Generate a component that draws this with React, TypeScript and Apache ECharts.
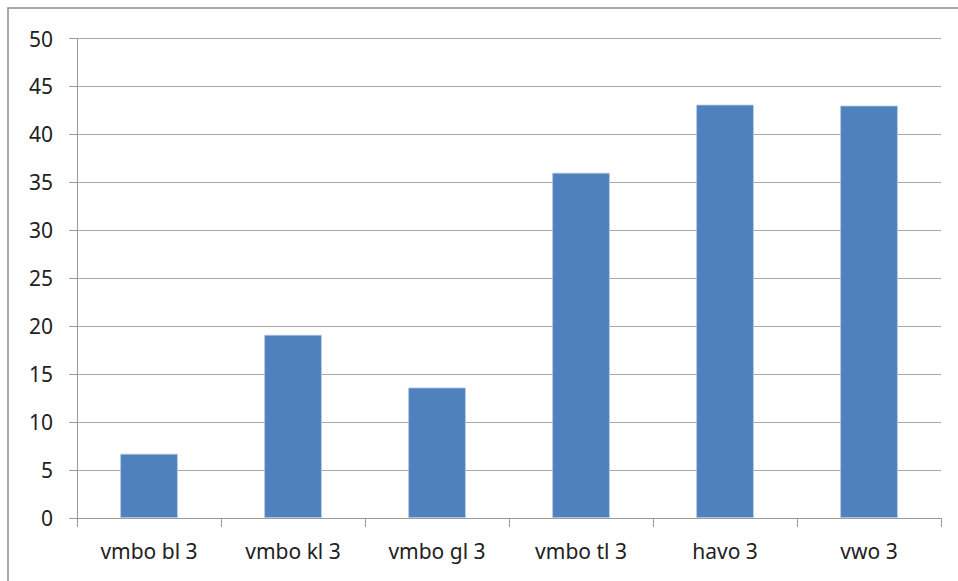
import React, { useEffect, useRef } from "react";
import * as echarts from "echarts";

const categories = ["vmbo bl 3", "vmbo kl 3", "vmbo gl 3", "vmbo tl 3", "havo 3", "vwo 3"];
const values = [6.7, 19.1, 13.6, 36.0, 43.1, 43.0];
const yTicks = { min: 0, max: 50, interval: 5 };

export default function App() {
  const ref = useRef<HTMLDivElement>(null);
  useEffect(() => {
    if (!ref.current) return;
    const chart = echarts.init(ref.current, undefined, { renderer: "svg" });
    const font = "'Noto Sans', sans-serif";
    chart.setOption({
      animation: false,
      backgroundColor: "#ffffff",
      graphic: [
        {
          type: "rect",
          shape: { x: 8, y: 8, width: 1200, height: 1000 },
          style: { fill: "none", stroke: "#8c8c8c", lineWidth: 1.5 },
          silent: true,
          z: -1,
        },
      ],
      grid: { left: 77, right: 17, top: 38.5, bottom: 63, containLabel: false },
      xAxis: {
        type: "category",
        data: categories,
        axisLine: { show: true, lineStyle: { color: "#9a9a9a", width: 1 } },
        axisTick: { show: true, length: 9, alignWithLabel: false, lineStyle: { color: "#9a9a9a" } },
        axisLabel: { color: "#222222", fontSize: 21, fontFamily: font, margin: 22 },
        splitLine: { show: false },
      },
      yAxis: {
        type: "value",
        min: yTicks.min,
        max: yTicks.max,
        interval: yTicks.interval,
        axisLine: { show: true, lineStyle: { color: "#9a9a9a", width: 1 } },
        axisTick: { show: true, length: 8, lineStyle: { color: "#9a9a9a" } },
        axisLabel: { color: "#222222", fontSize: 21, fontFamily: font, margin: 24 },
        splitLine: { show: true, lineStyle: { color: "#a8a8a8", width: 1 } },
      },
      series: [
        {
          type: "bar",
          data: values,
          barWidth: "40%",
          itemStyle: { color: "#4f81bd", borderColor: "#b3c7e3", borderWidth: 0.8 },
        },
      ],
    });
    return () => chart.dispose();
  }, []);
  return (
    <div
      ref={ref}
      style={{ position: "fixed", left: 0, top: 0, width: 958, height: 581 }}
    />
  );
}
